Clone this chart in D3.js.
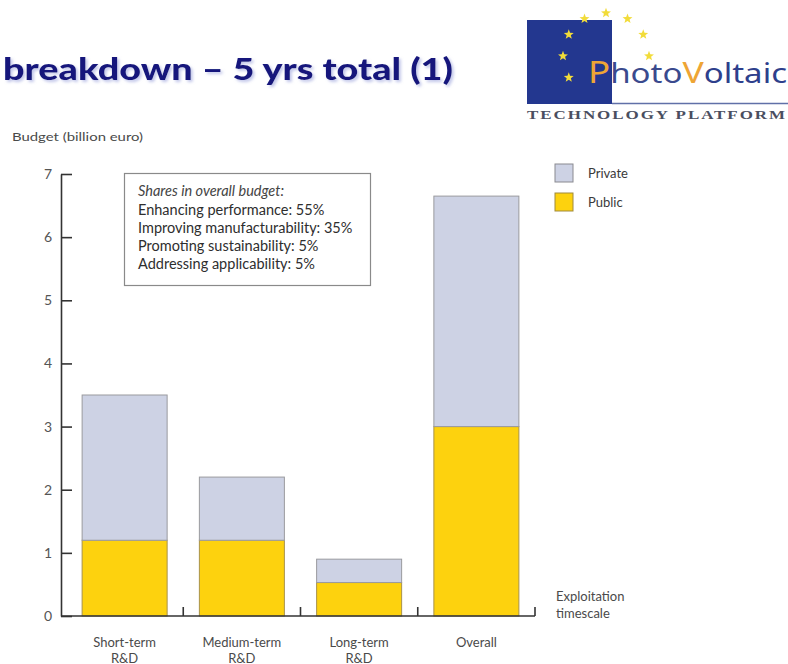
<!DOCTYPE html>
<html>
<head>
<meta charset="utf-8">
<script src="https://cdn.jsdelivr.net/npm/d3@7"></script>
<style>
  html, body { margin: 0; padding: 0; background: #fff; }
  svg { display: block; font-family: Lato, "Open Sans", sans-serif; }
</style>
</head>
<body>
<svg id="chart" width="788" height="664"></svg>
<script>
// Budget per exploitation timescale, billion euro
const categories = ["Short-term R&D", "Medium-term R&D", "Long-term R&D", "Overall"];
const publicBudget = [1.2, 1.2, 0.53, 3.0];
const privateBudget = [2.3, 1.0, 0.37, 3.65];
const yTicks = [0, 1, 2, 3, 4, 5, 6, 7];
const seriesKeys = ["public", "private"];
const seriesLabels = { private: "Private", public: "Public" };
const sharesTitle = "Shares in overall budget:";
const sharesLines = [
  "Enhancing performance: 55%",
  "Improving manufacturability: 35%",
  "Promoting sustainability: 5%",
  "Addressing applicability: 5%"
];

const rows = categories.map((c, i) => ({ cat: c, public: publicBudget[i], private: privateBudget[i] }));

const fills = { private: "#cdd2e4", public: "#fdd20e" };
const strokes = { private: "#9a9a9e", public: "#a8924a" };
const textColor = "#4a4a4a";

const svg = d3.select("#chart");
svg.append("rect").attr("width", 788).attr("height", 664).attr("fill", "#fff");

const defs = svg.append("defs");
defs.append("filter").attr("id", "titleShadow")
  .attr("x", "-5%").attr("y", "-20%").attr("width", "110%").attr("height", "150%")
  .append("feDropShadow")
  .attr("dx", 2).attr("dy", 2).attr("stdDeviation", 1.4)
  .attr("flood-color", "#8f96d8").attr("flood-opacity", 0.55);

// Title
svg.append("text")
  .attr("x", 3).attr("y", 80)
  .attr("font-size", 30).attr("font-weight", 900)
  .attr("fill", "#16187c")
  .attr("textLength", 450).attr("lengthAdjust", "spacingAndGlyphs")
  .attr("filter", "url(#titleShadow)")
  .text("breakdown \u2013 5 yrs total (1)");

// Logo: blue field with ring of stars
const logo = svg.append("g");
logo.append("rect").attr("x", 527).attr("y", 20).attr("width", 85).attr("height", 84).attr("fill", "#23378f");
const starPath = (cx, cy, r) => {
  const pts = [];
  for (let k = 0; k < 10; k++) {
    const a = -Math.PI / 2 + k * Math.PI / 5;
    const rr = k % 2 === 0 ? r : r * 0.42;
    pts.push([cx + rr * Math.cos(a), cy + rr * Math.sin(a)]);
  }
  return "M" + pts.map(p => p.join(",")).join("L") + "Z";
};
const starAngles = [0, 30, 60, 90, 120, 150, 180, 210];
starAngles.forEach(deg => {
  const a = deg * Math.PI / 180;
  logo.append("path")
    .attr("d", starPath(606 + 43 * Math.cos(a), 56 - 43 * Math.sin(a), 5.2))
    .attr("fill", "#f2dc3a");
});
const brand = logo.append("text")
  .attr("x", 588).attr("y", 83)
  .attr("font-size", 27).style("font-family", "'Noto Sans', sans-serif")
  .attr("textLength", 199).attr("lengthAdjust", "spacingAndGlyphs");
brand.append("tspan").attr("fill", "#eea535").attr("font-size", 30).text("P");
brand.append("tspan").attr("fill", "#3a4a8e").text("hoto");
brand.append("tspan").attr("fill", "#eea535").attr("font-size", 29).text("V");
brand.append("tspan").attr("fill", "#2e3f8c").text("oltaic");
logo.append("line").attr("x1", 612).attr("x2", 788).attr("y1", 103.5).attr("y2", 103.5)
  .attr("stroke", "#6070a8").attr("stroke-width", 1.6);
logo.append("text")
  .attr("x", 527).attr("y", 119)
  .attr("font-size", 13).attr("font-weight", 700)
  .style("font-family", "'Liberation Serif', 'DejaVu Serif', serif")
  .style("letter-spacing", "1.5px")
  .attr("fill", "#4a4e60")
  .attr("textLength", 260).attr("lengthAdjust", "spacingAndGlyphs")
  .text("TECHNOLOGY PLATFORM");

// Axis title
svg.append("text").attr("x", 12).attr("y", 141)
  .attr("font-size", 11.5).attr("fill", textColor)
  .attr("textLength", 131).attr("lengthAdjust", "spacingAndGlyphs")
  .text("Budget (billion euro)");

// Scales
const y = d3.scaleLinear().domain([0, 7]).range([616, 174]);
const x = d3.scaleBand().domain(categories).range([66, 535])
  .paddingInner(0.275).paddingOuter(0.1375);

// Stacked bars
const stacked = d3.stack().keys(seriesKeys)(rows);
svg.append("g").selectAll("g").data(stacked).join("g")
  .attr("fill", d => fills[d.key])
  .attr("stroke", d => strokes[d.key])
  .attr("stroke-width", 1)
  .selectAll("rect").data(d => d).join("rect")
  .attr("x", d => x(d.data.cat))
  .attr("width", x.bandwidth())
  .attr("y", d => y(d[1]))
  .attr("height", d => y(d[0]) - y(d[1]));

// Y axis with inward ticks
const yAxis = svg.append("g").attr("transform", "translate(61,0)")
  .call(d3.axisLeft(y).tickValues(yTicks).tickFormat(d3.format("d"))
    .tickSizeInner(-11).tickSizeOuter(0).tickPadding(9));
yAxis.attr("font-family", null);
yAxis.select(".domain").attr("stroke", "#333").attr("stroke-width", 1.6);
yAxis.selectAll(".tick line").attr("stroke", "#333").attr("stroke-width", 1.6);
yAxis.selectAll(".tick text").attr("font-size", 14).attr("fill", "#555");

// X baseline with category separators
const base = svg.append("g");
base.append("line").attr("x1", 61).attr("x2", x.range()[1]).attr("y1", y(0)).attr("y2", y(0))
  .attr("stroke", "#333").attr("stroke-width", 1.6);
const gap = (x.step() - x.bandwidth()) / 2;
base.selectAll("line.sep").data(categories).join("line").attr("class", "sep")
  .attr("x1", d => x(d) + x.bandwidth() + gap)
  .attr("x2", d => x(d) + x.bandwidth() + gap)
  .attr("y1", y(0)).attr("y2", y(0) - 9)
  .attr("stroke", "#333").attr("stroke-width", 1.6);

// Category labels (two lines)
const catLabels = svg.append("g").selectAll("text").data(categories).join("text")
  .attr("text-anchor", "middle")
  .attr("font-size", 13).attr("fill", textColor)
  .attr("x", d => x(d) + x.bandwidth() / 2)
  .attr("y", 647);
catLabels.each(function (d) {
  const parts = d.split(" ");
  const t = d3.select(this);
  t.append("tspan").attr("x", x(d) + x.bandwidth() / 2).text(parts[0]);
  if (parts[1]) t.append("tspan").attr("x", x(d) + x.bandwidth() / 2).attr("dy", 15.5).text(parts[1]);
});

// Axis end label
svg.append("text").attr("x", 556).attr("y", 601).attr("font-size", 13).attr("fill", textColor)
  .selectAll("tspan").data(["Exploitation", "timescale"]).join("tspan")
  .attr("x", 556).attr("dy", (d, i) => i ? 17 : 0).text(d => d);

// Shares box
const box = svg.append("g");
box.append("rect").attr("x", 124.5).attr("y", 173.5).attr("width", 246).attr("height", 112)
  .attr("fill", "#fff").attr("stroke", "#8a8a8a").attr("stroke-width", 1.2);
box.append("text").attr("x", 138).attr("y", 196).attr("font-size", 14.5).attr("font-style", "italic")
  .attr("fill", "#444").text(sharesTitle);
box.selectAll("text.line").data(sharesLines).join("text").attr("class", "line")
  .attr("x", 138).attr("y", (d, i) => 214.5 + i * 18.3)
  .attr("font-size", 14.5).attr("fill", "#2e2e2e").text(d => d);

// Legend
const legendKeys = ["private", "public"];
const legend = svg.append("g").selectAll("g").data(legendKeys).join("g")
  .attr("transform", (d, i) => `translate(555,${164 + i * 29})`);
legend.append("rect").attr("width", 18).attr("height", 18)
  .attr("fill", d => fills[d]).attr("stroke", d => d === "public" ? "#a08a3c" : "#8a8a90").attr("stroke-width", 1);
legend.append("text").attr("x", 33).attr("y", 14).attr("font-size", 13).attr("fill", "#3a3a3a")
  .text(d => seriesLabels[d]);
</script>
</body>
</html>
